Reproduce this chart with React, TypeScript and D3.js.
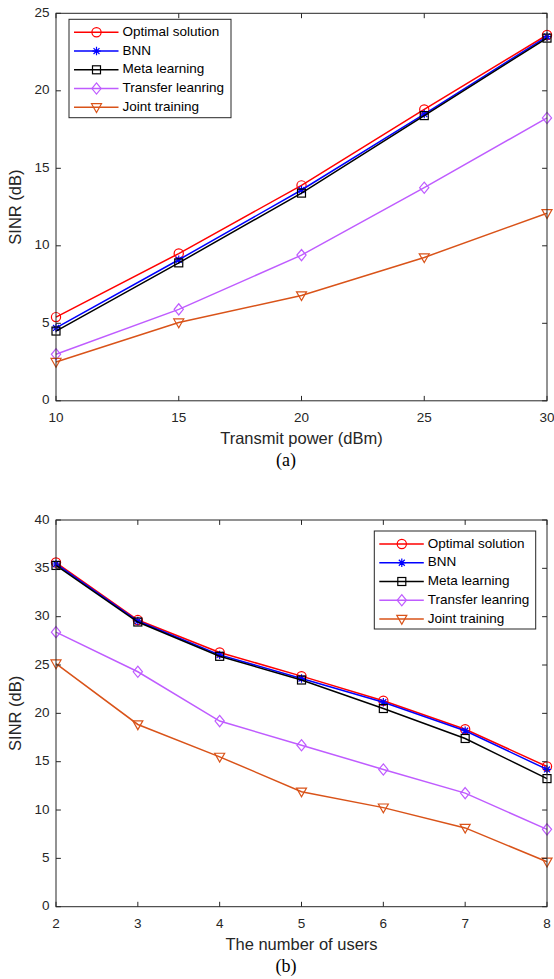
import React from "react";
import * as d3 from "d3";

// ---------- Data ----------
const powerX = [10, 15, 20, 25, 30];
const powerOptimal = [5.4, 9.5, 13.9, 18.8, 23.6];
const powerBNN = [4.7, 9.1, 13.6, 18.5, 23.5];
const powerMeta = [4.5, 8.9, 13.4, 18.4, 23.4];
const powerTransfer = [3.0, 5.9, 9.4, 13.75, 18.25];
const powerJoint = [2.5, 5.05, 6.8, 9.25, 12.1];

const usersX = [2, 3, 4, 5, 6, 7, 8];
const usersOptimal = [35.6, 29.65, 26.3, 23.85, 21.3, 18.35, 14.5];
const usersBNN = [35.45, 29.55, 26.05, 23.6, 21.15, 18.2, 14.2];
const usersMeta = [35.3, 29.45, 25.9, 23.45, 20.5, 17.4, 13.25];
const usersTransfer = [28.4, 24.3, 19.2, 16.7, 14.2, 11.75, 8.0];
const usersJoint = [25.15, 18.85, 15.5, 11.9, 10.25, 8.15, 4.65];

const seriesNames = ["Optimal solution", "BNN", "Meta learning", "Transfer leanring", "Joint training"];
const seriesColors = ["#ff0000", "#0000ff", "#000000", "#bf5cff", "#d95319"];
const seriesMarkers = ["circle", "star", "square", "diamond", "triangle"];

const powerTicksX = [10, 15, 20, 25, 30];
const powerTicksY = [0, 5, 10, 15, 20, 25];
const usersTicksX = [2, 3, 4, 5, 6, 7, 8];
const usersTicksY = [0, 5, 10, 15, 20, 25, 30, 35, 40];

const AX = "#262626";
const FONT = "'Liberation Sans', Arial, Helvetica, sans-serif";
const SERIF = "'Liberation Serif', 'Times New Roman', serif";

function Marker({ type, x, y, color }: { type: string; x: number; y: number; color: string }) {
  const sw = 1.2;
  if (type === "circle") return <circle cx={x} cy={y} r={4.6} fill="none" stroke={color} strokeWidth={sw} />;
  if (type === "square") return <rect x={x - 4} y={y - 4} width={8} height={8} fill="none" stroke={color} strokeWidth={sw} />;
  if (type === "diamond")
    return <path d={`M${x},${y - 5.6}L${x + 4.6},${y}L${x},${y + 5.6}L${x - 4.6},${y}Z`} fill="none" stroke={color} strokeWidth={sw} />;
  if (type === "triangle")
    return <path d={`M${x - 5},${y - 3.6}L${x + 5},${y - 3.6}L${x},${y + 5.2}Z`} fill="none" stroke={color} strokeWidth={sw} />;
  // star (asterisk)
  const r = 4.2;
  const d = r * 0.7071;
  return (
    <path
      d={`M${x - r},${y}L${x + r},${y}M${x},${y - r}L${x},${y + r}M${x - d},${y - d}L${x + d},${y + d}M${x - d},${y + d}L${x + d},${y - d}`}
      stroke={color}
      strokeWidth={sw}
      fill="none"
    />
  );
}

function Panel(props: {
  top: number;
  bottom: number;
  xs: number[];
  ys: number[][];
  xTicks: number[];
  yTicks: number[];
  xDomain: [number, number];
  yDomain: [number, number];
  xLabel: string;
  caption: string;
  legend: { x: number; y: number; w: number; h: number };
}) {
  const left = 56;
  const right = 547;
  const { top, bottom } = props;
  const x = d3.scaleLinear().domain(props.xDomain).range([left, right]);
  const y = d3.scaleLinear().domain(props.yDomain).range([bottom, top]);
  const line = d3
    .line<number>()
    .x((_, i) => x(props.xs[i]))
    .y((v) => y(v));
  const tl = 4.9;
  const lg = props.legend;
  const rowH = 18.75;
  return (
    <g>
      <rect x={left} y={top} width={right - left} height={bottom - top} fill="white" />
      {props.ys.map((vals, si) => (
        <g key={si}>
          <path d={line(vals) || ""} fill="none" stroke={seriesColors[si]} strokeWidth={1.5} />
          {vals.map((v, i) => (
            <Marker key={i} type={seriesMarkers[si]} x={x(props.xs[i])} y={y(v)} color={seriesColors[si]} />
          ))}
        </g>
      ))}
      {/* axes box */}
      <rect x={left} y={top} width={right - left} height={bottom - top} fill="none" stroke={AX} strokeWidth={1} />
      {props.xTicks.map((t) => (
        <g key={"x" + t}>
          <line x1={x(t)} x2={x(t)} y1={bottom} y2={bottom - tl} stroke={AX} />
          <line x1={x(t)} x2={x(t)} y1={top} y2={top + tl} stroke={AX} />
          <text x={x(t)} y={bottom + 17.5} textAnchor="middle" dominantBaseline="middle" fontSize={13.5} fill={AX} fontFamily={FONT}>
            {t}
          </text>
        </g>
      ))}
      {props.yTicks.map((t) => (
        <g key={"y" + t}>
          <line x1={left} x2={left + tl} y1={y(t)} y2={y(t)} stroke={AX} />
          <line x1={right} x2={right - tl} y1={y(t)} y2={y(t)} stroke={AX} />
          <text x={left - 6.5} y={y(t)} textAnchor="end" dominantBaseline="middle" fontSize={13.5} fill={AX} fontFamily={FONT}>
            {t}
          </text>
        </g>
      ))}
      <text
        transform={`translate(17,${(top + bottom) / 2}) rotate(-90)`}
        textAnchor="middle"
        dominantBaseline="middle"
        fontSize={16.5}
        fill={AX}
        fontFamily={FONT}
      >
        SINR (dB)
      </text>
      <text x={301.5} y={bottom + 39} textAnchor="middle" dominantBaseline="middle" fontSize={16.5} fill={AX} fontFamily={FONT}>
        {props.xLabel}
      </text>
      <text x={286} y={bottom + 61.5} textAnchor="middle" dominantBaseline="middle" fontSize={18} fill="#000" fontFamily={SERIF}>
        {props.caption}
      </text>
      {/* legend */}
      <rect x={lg.x} y={lg.y} width={lg.w} height={lg.h} fill="white" stroke={AX} strokeWidth={1} />
      {seriesNames.map((n, i) => {
        const cy = lg.y + 13 + i * rowH;
        return (
          <g key={n}>
            <line x1={lg.x + 5} x2={lg.x + 49.5} y1={cy} y2={cy} stroke={seriesColors[i]} strokeWidth={1.5} />
            <Marker type={seriesMarkers[i]} x={lg.x + 27.5} y={cy} color={seriesColors[i]} />
            <text x={lg.x + 53.5} y={cy} dominantBaseline="middle" fontSize={13.5} fill="#000" fontFamily={FONT}>
              {n}
            </text>
          </g>
        );
      })}
    </g>
  );
}

export default function App() {
  return (
    <svg width={554} height={979} style={{ position: "absolute", left: 0, top: 0, background: "white" }}>
      <rect width={554} height={979} fill="white" />
      <Panel
        top={13.3}
        bottom={400.8}
        xs={powerX}
        ys={[powerOptimal, powerBNN, powerMeta, powerTransfer, powerJoint]}
        xTicks={powerTicksX}
        yTicks={powerTicksY}
        xDomain={[10, 30]}
        yDomain={[0, 25]}
        xLabel="Transmit power (dBm)"
        caption="(a)"
        legend={{ x: 69, y: 19.3, w: 162, h: 98.4 }}
      />
      <Panel
        top={520}
        bottom={906.7}
        xs={usersX}
        ys={[usersOptimal, usersBNN, usersMeta, usersTransfer, usersJoint]}
        xTicks={usersTicksX}
        yTicks={usersTicksY}
        xDomain={[2, 8]}
        yDomain={[0, 40]}
        xLabel="The number of users"
        caption="(b)"
        legend={{ x: 374.3, y: 531, w: 161.4, h: 98 }}
      />
    </svg>
  );
}
